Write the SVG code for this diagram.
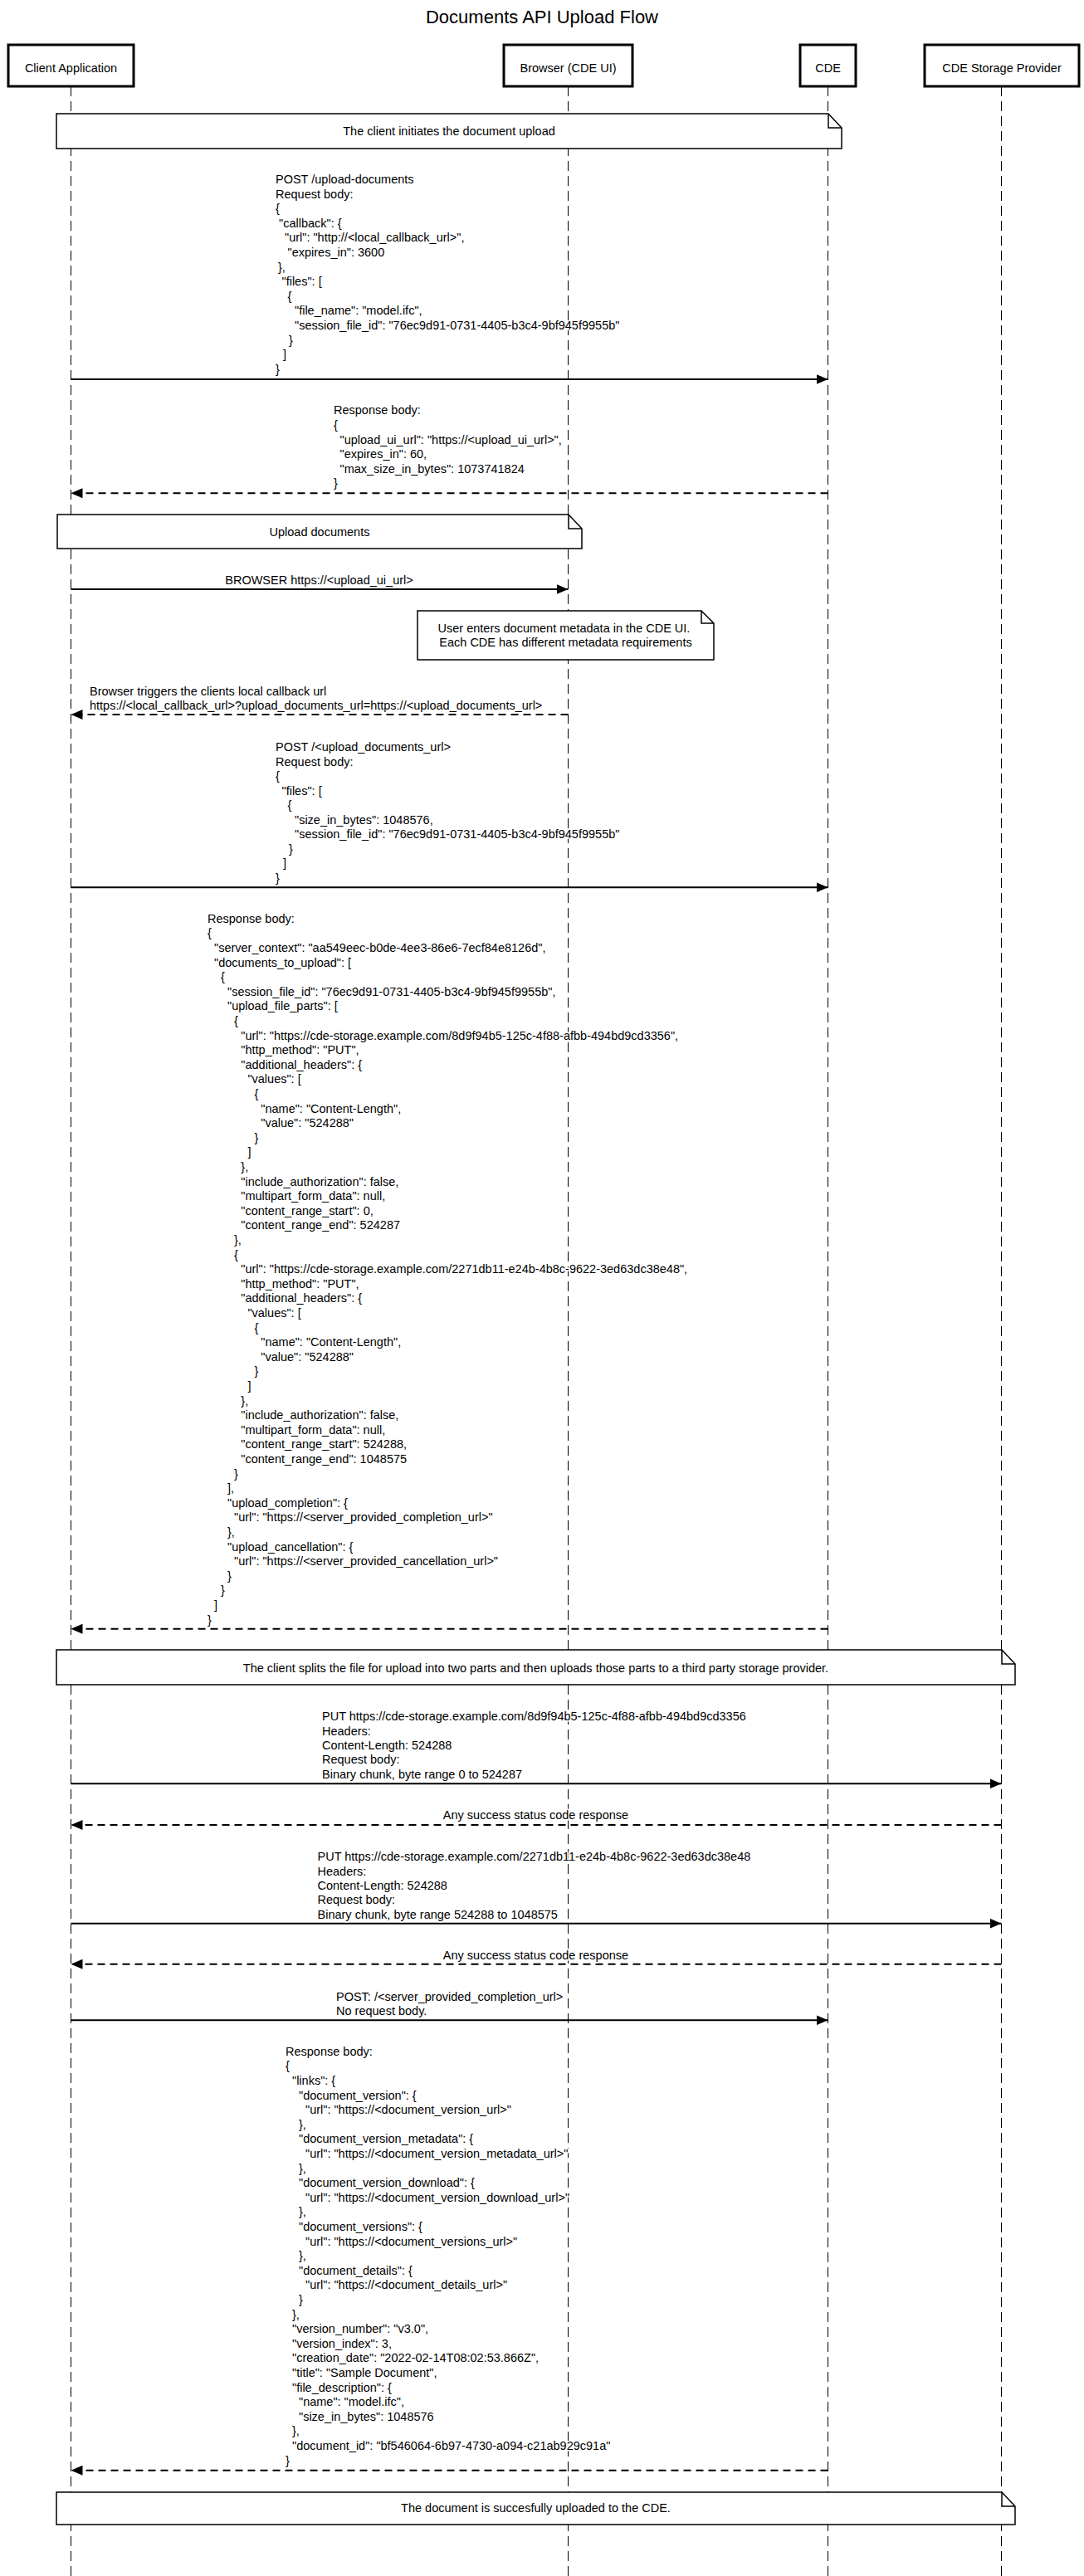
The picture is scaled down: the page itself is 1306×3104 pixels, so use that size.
<svg xmlns="http://www.w3.org/2000/svg" width="1306" height="3104" viewBox="0 0 1306 3104">
<style>
text { font-family: "Liberation Sans", Arial, Helvetica, sans-serif; font-size: 14.5px; fill: #000; }
.title { font-size: 22px; text-anchor: middle; }
.c { text-anchor: middle; }
.m { paint-order: stroke; stroke: #fff; stroke-width: 3px; stroke-linejoin: round; }
.box { fill: #fff; stroke: #000; stroke-width: 3; }
.life { stroke: #000; stroke-width: 1; stroke-dasharray: 12 6; fill: none; }
.msg { stroke: #000; stroke-width: 2; fill: none; marker-end: url(#ah); }
.ret { stroke-dasharray: 9 6; }
.note { fill: #fff; stroke: #000; stroke-width: 1.5; }
.fold { fill: none; stroke: #000; stroke-width: 1.5; }
</style>
<defs>
<marker id="ah" markerUnits="userSpaceOnUse" markerWidth="14" markerHeight="12" refX="14" refY="6" orient="auto">
<path d="M0,0 L14,6 L0,12 z" fill="#000"/>
</marker>
</defs>
<rect x="0" y="0" width="1306" height="3104" fill="#fff"/>
<text class="title" x="653" y="28">Documents API Upload Flow</text>

<g id="node-client">
<line class="life" x1="85.5" y1="104" x2="85.5" y2="3104"/>
<rect class="box" x="10" y="54" width="151" height="50"/>
<text class="c" x="85.5" y="87">Client Application</text>
</g>
<g id="node-browser">
<line class="life" x1="684.5" y1="104" x2="684.5" y2="3104"/>
<rect class="box" x="607" y="54" width="155" height="50"/>
<text class="c" x="684.5" y="87">Browser (CDE UI)</text>
</g>
<g id="node-cde">
<line class="life" x1="997.5" y1="104" x2="997.5" y2="3104"/>
<rect class="box" x="964" y="54" width="67" height="50"/>
<text class="c" x="997.5" y="87">CDE</text>
</g>
<g id="node-storage">
<line class="life" x1="1206.5" y1="104" x2="1206.5" y2="3104"/>
<rect class="box" x="1114" y="54" width="186" height="50"/>
<text class="c" x="1207" y="87">CDE Storage Provider</text>
</g>

<g id="connectors">
<g id="msg1">
<line class="msg" x1="85.5" y1="457" x2="997.5" y2="457"/>
<text class="m">
<tspan x="332" y="221">POST /upload-documents</tspan>
<tspan x="332" y="238.6">Request body:</tspan>
<tspan x="332" y="256.2">{</tspan>
<tspan x="336" y="273.8">"callback": {</tspan>
<tspan x="343" y="291.4">"url": "http://&lt;local_callback_url&gt;",</tspan>
<tspan x="346.5" y="309">"expires_in": 3600</tspan>
<tspan x="335" y="326.6">},</tspan>
<tspan x="339.5" y="344.2">"files": [</tspan>
<tspan x="346.5" y="361.8">{</tspan>
<tspan x="355" y="379.4">"file_name": "model.ifc",</tspan>
<tspan x="355" y="397">"session_file_id": "76ec9d91-0731-4405-b3c4-9bf945f9955b"</tspan>
<tspan x="348" y="414.6">}</tspan>
<tspan x="341" y="432.2">]</tspan>
<tspan x="332" y="449.8">}</tspan>
</text>
</g>
<g id="msg2">
<line class="msg ret" x1="997.5" y1="594.3" x2="85.5" y2="594.3"/>
<text class="m">
<tspan x="402" y="499.3">Response body:</tspan>
<tspan x="402" y="516.9">{</tspan>
<tspan x="409.5" y="534.5">"upload_ui_url": "https://&lt;upload_ui_url&gt;",</tspan>
<tspan x="409.5" y="552.1">"expires_in": 60,</tspan>
<tspan x="409.5" y="569.7">"max_size_in_bytes": 1073741824</tspan>
<tspan x="402" y="587.3">}</tspan>
</text>
</g>
<g id="msg3">
<line class="msg" x1="85.5" y1="710" x2="684.5" y2="710"/>
<text class="m c" x="384.5" y="704.3">BROWSER https://&lt;upload_ui_url&gt;</text>
</g>
<g id="msg4">
<line class="msg ret" x1="684.5" y1="861" x2="85.5" y2="861"/>
<text class="m">
<tspan x="108" y="838.3">Browser triggers the clients local callback url</tspan>
<tspan x="108" y="855.3">https://&lt;local_callback_url&gt;?upload_documents_url=https://&lt;upload_documents_url&gt;</tspan>
</text>
</g>
<g id="msg5">
<line class="msg" x1="85.5" y1="1069.3" x2="997.5" y2="1069.3"/>
<text class="m">
<tspan x="332" y="905">POST /&lt;upload_documents_url&gt;</tspan>
<tspan x="332" y="922.5">Request body:</tspan>
<tspan x="332" y="940">{</tspan>
<tspan x="339.5" y="957.5">"files": [</tspan>
<tspan x="346.5" y="975">{</tspan>
<tspan x="355" y="992.5">"size_in_bytes": 1048576,</tspan>
<tspan x="355" y="1010">"session_file_id": "76ec9d91-0731-4405-b3c4-9bf945f9955b"</tspan>
<tspan x="348" y="1027.5">}</tspan>
<tspan x="341" y="1045">]</tspan>
<tspan x="332" y="1062.5">}</tspan>
</text>
</g>
<g id="msg6">
<line class="msg ret" x1="997.5" y1="1962.7" x2="85.5" y2="1962.7"/>
<text class="m">
<tspan x="250" y="1111.7">Response body:</tspan>
<tspan x="250" y="1129.3">{</tspan>
<tspan x="258" y="1146.9">"server_context": "aa549eec-b0de-4ee3-86e6-7ecf84e8126d",</tspan>
<tspan x="258" y="1164.5">"documents_to_upload": [</tspan>
<tspan x="266" y="1182.1">{</tspan>
<tspan x="274" y="1199.7">"session_file_id": "76ec9d91-0731-4405-b3c4-9bf945f9955b",</tspan>
<tspan x="274" y="1217.3">"upload_file_parts": [</tspan>
<tspan x="282" y="1234.9">{</tspan>
<tspan x="290.3" y="1252.5">"url": "https://cde-storage.example.com/8d9f94b5-125c-4f88-afbb-494bd9cd3356",</tspan>
<tspan x="290.3" y="1270.1">"http_method": "PUT",</tspan>
<tspan x="290.3" y="1287.7">"additional_headers": {</tspan>
<tspan x="298.4" y="1305.3">"values": [</tspan>
<tspan x="306.5" y="1322.9">{</tspan>
<tspan x="314.3" y="1340.5">"name": "Content-Length",</tspan>
<tspan x="314.3" y="1358.1">"value": "524288"</tspan>
<tspan x="306.5" y="1375.7">}</tspan>
<tspan x="298.4" y="1393.3">]</tspan>
<tspan x="290.3" y="1410.9">},</tspan>
<tspan x="290.3" y="1428.5">"include_authorization": false,</tspan>
<tspan x="290.3" y="1446.1">"multipart_form_data": null,</tspan>
<tspan x="290.3" y="1463.7">"content_range_start": 0,</tspan>
<tspan x="290.3" y="1481.3">"content_range_end": 524287</tspan>
<tspan x="282" y="1498.9">},</tspan>
<tspan x="282" y="1516.5">{</tspan>
<tspan x="290.3" y="1534.1">"url": "https://cde-storage.example.com/2271db11-e24b-4b8c-9622-3ed63dc38e48",</tspan>
<tspan x="290.3" y="1551.7">"http_method": "PUT",</tspan>
<tspan x="290.3" y="1569.3">"additional_headers": {</tspan>
<tspan x="298.4" y="1586.9">"values": [</tspan>
<tspan x="306.5" y="1604.5">{</tspan>
<tspan x="314.3" y="1622.1">"name": "Content-Length",</tspan>
<tspan x="314.3" y="1639.7">"value": "524288"</tspan>
<tspan x="306.5" y="1657.3">}</tspan>
<tspan x="298.4" y="1674.9">]</tspan>
<tspan x="290.3" y="1692.5">},</tspan>
<tspan x="290.3" y="1710.1">"include_authorization": false,</tspan>
<tspan x="290.3" y="1727.7">"multipart_form_data": null,</tspan>
<tspan x="290.3" y="1745.3">"content_range_start": 524288,</tspan>
<tspan x="290.3" y="1762.9">"content_range_end": 1048575</tspan>
<tspan x="282" y="1780.5">}</tspan>
<tspan x="274" y="1798.1">],</tspan>
<tspan x="274" y="1815.7">"upload_completion": {</tspan>
<tspan x="282" y="1833.3">"url": "https://&lt;server_provided_completion_url&gt;"</tspan>
<tspan x="274" y="1850.9">},</tspan>
<tspan x="274" y="1868.5">"upload_cancellation": {</tspan>
<tspan x="282" y="1886.1">"url": "https://&lt;server_provided_cancellation_url&gt;"</tspan>
<tspan x="274" y="1903.7">}</tspan>
<tspan x="266" y="1921.3">}</tspan>
<tspan x="258" y="1938.9">]</tspan>
<tspan x="250" y="1956.5">}</tspan>
</text>
</g>
<g id="msg7">
<line class="msg" x1="85.5" y1="2149.3" x2="1206.5" y2="2149.3"/>
<text class="m">
<tspan x="388" y="2073.3">PUT https://cde-storage.example.com/8d9f94b5-125c-4f88-afbb-494bd9cd3356</tspan>
<tspan x="388" y="2090.6">Headers:</tspan>
<tspan x="388" y="2107.9">Content-Length: 524288</tspan>
<tspan x="388" y="2125.2">Request body:</tspan>
<tspan x="388" y="2142.5">Binary chunk, byte range 0 to 524287</tspan>
</text>
</g>
<g id="msg8">
<line class="msg ret" x1="1206.5" y1="2199" x2="85.5" y2="2199"/>
<text class="m c" x="645.5" y="2191.7">Any success status code response</text>
</g>
<g id="msg9">
<line class="msg" x1="85.5" y1="2317.7" x2="1206.5" y2="2317.7"/>
<text class="m">
<tspan x="382.5" y="2242.3">PUT https://cde-storage.example.com/2271db11-e24b-4b8c-9622-3ed63dc38e48</tspan>
<tspan x="382.5" y="2259.6">Headers:</tspan>
<tspan x="382.5" y="2276.9">Content-Length: 524288</tspan>
<tspan x="382.5" y="2294.2">Request body:</tspan>
<tspan x="382.5" y="2311.5">Binary chunk, byte range 524288 to 1048575</tspan>
</text>
</g>
<g id="msg10">
<line class="msg ret" x1="1206.5" y1="2366.7" x2="85.5" y2="2366.7"/>
<text class="m c" x="645.5" y="2360.7">Any success status code response</text>
</g>
<g id="msg11">
<line class="msg" x1="85.5" y1="2434.3" x2="997.5" y2="2434.3"/>
<text class="m">
<tspan x="405" y="2411">POST: /&lt;server_provided_completion_url&gt;</tspan>
<tspan x="405" y="2428">No request body.</tspan>
</text>
</g>
<g id="msg12">
<line class="msg ret" x1="997.5" y1="2976.7" x2="85.5" y2="2976.7"/>
<text class="m">
<tspan x="344" y="2476.7">Response body:</tspan>
<tspan x="344" y="2494.3">{</tspan>
<tspan x="352" y="2511.9">"links": {</tspan>
<tspan x="360" y="2529.5">"document_version": {</tspan>
<tspan x="368" y="2547.1">"url": "https://&lt;document_version_url&gt;"</tspan>
<tspan x="360" y="2564.7">},</tspan>
<tspan x="360" y="2582.3">"document_version_metadata": {</tspan>
<tspan x="368" y="2599.9">"url": "https://&lt;document_version_metadata_url&gt;"</tspan>
<tspan x="360" y="2617.5">},</tspan>
<tspan x="360" y="2635.1">"document_version_download": {</tspan>
<tspan x="368" y="2652.7">"url": "https://&lt;document_version_download_url&gt;"</tspan>
<tspan x="360" y="2670.3">},</tspan>
<tspan x="360" y="2687.9">"document_versions": {</tspan>
<tspan x="368" y="2705.5">"url": "https://&lt;document_versions_url&gt;"</tspan>
<tspan x="360" y="2723.1">},</tspan>
<tspan x="360" y="2740.7">"document_details": {</tspan>
<tspan x="368" y="2758.3">"url": "https://&lt;document_details_url&gt;"</tspan>
<tspan x="360" y="2775.9">}</tspan>
<tspan x="352" y="2793.5">},</tspan>
<tspan x="352" y="2811.1">"version_number": "v3.0",</tspan>
<tspan x="352" y="2828.7">"version_index": 3,</tspan>
<tspan x="352" y="2846.3">"creation_date": "2022-02-14T08:02:53.866Z",</tspan>
<tspan x="352" y="2863.9">"title": "Sample Document",</tspan>
<tspan x="352" y="2881.5">"file_description": {</tspan>
<tspan x="360" y="2899.1">"name": "model.ifc",</tspan>
<tspan x="360" y="2916.7">"size_in_bytes": 1048576</tspan>
<tspan x="352" y="2934.3">},</tspan>
<tspan x="352" y="2951.9">"document_id": "bf546064-6b97-4730-a094-c21ab929c91a"</tspan>
<tspan x="344" y="2969.5">}</tspan>
</text>
</g>
</g>

<g id="note-initiate">
<path class="note" d="M68,137 H998 L1014,154 V179 H68 Z"/>
<path class="fold" d="M998,137 V154 H1014"/>
<text class="c" x="541" y="163">The client initiates the document upload</text>
</g>
<g id="note-upload">
<path class="note" d="M69,620 H685 L701,637 V661 H69 Z"/>
<path class="fold" d="M685,620 V637 H701"/>
<text class="c" x="385" y="646">Upload documents</text>
</g>
<g id="note-metadata">
<path class="note" d="M503,736 H845 L860,751 V795 H503 Z"/>
<path class="fold" d="M845,736 V751 H860"/>
<text class="c">
<tspan x="681.5" y="762.3">User enters document metadata in the CDE UI.</tspan>
<tspan x="681.5" y="779.3">Each CDE has different metadata requirements</tspan>
</text>
</g>
<g id="note-split">
<path class="note" d="M68,1988 H1207 L1223,2005 V2030 H68 Z"/>
<path class="fold" d="M1207,1988 V2005 H1223"/>
<text class="c" x="645.5" y="2015">The client splits the file for upload into two parts and then uploads those parts to a third party storage provider.</text>
</g>
<g id="note-done">
<path class="note" d="M68,3003 H1207 L1223,3020 V3042 H68 Z"/>
<path class="fold" d="M1207,3003 V3020 H1223"/>
<text class="c" x="645.5" y="3027">The document is succesfully uploaded to the CDE.</text>
</g>
</svg>
